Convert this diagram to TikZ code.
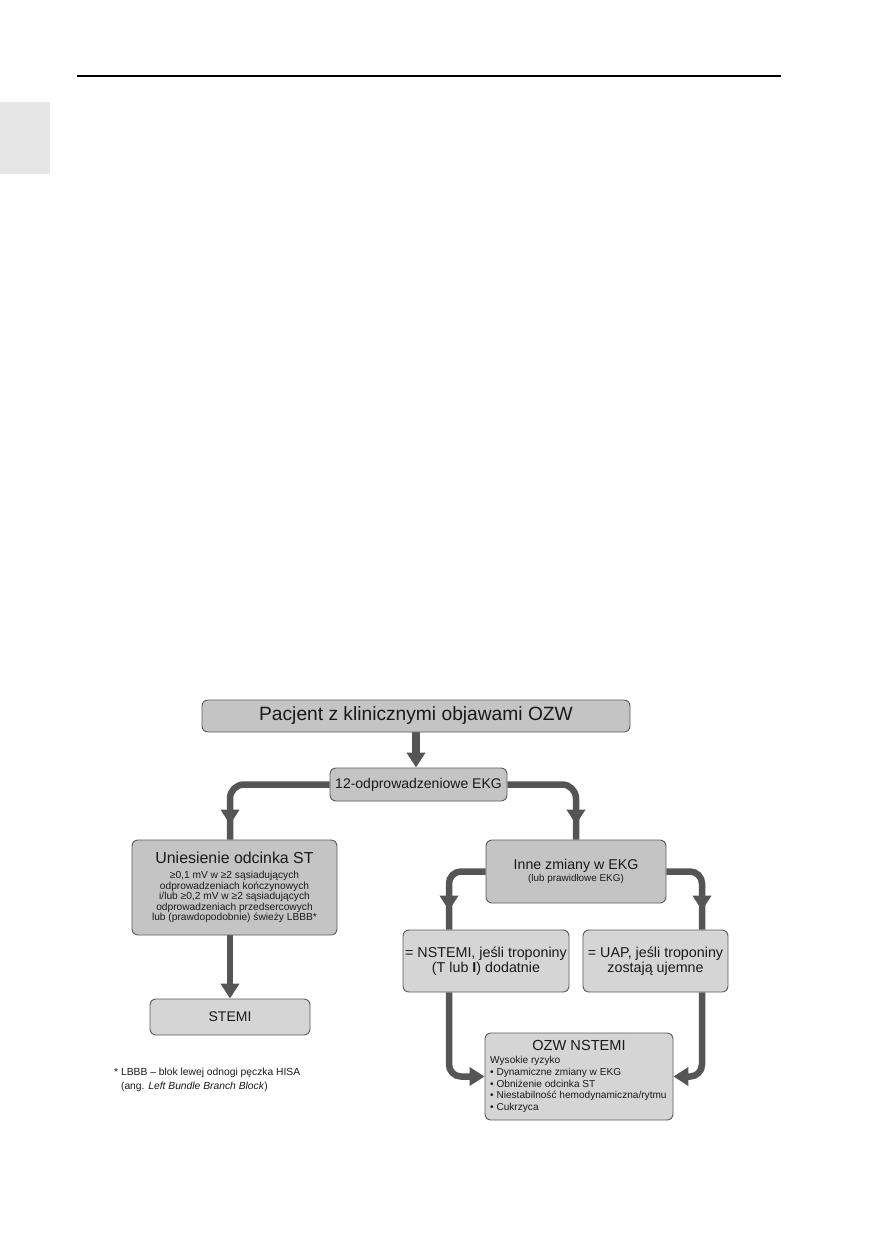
\documentclass[tikz,border=0pt]{standalone}
\usepackage{fontspec}
\setmainfont{Liberation Sans}
\usetikzlibrary{arrows.meta,decorations.markings}
\definecolor{boxA}{HTML}{C4C4C4}
\definecolor{boxB}{HTML}{D5D5D5}
\definecolor{edgecol}{HTML}{5A5A5A}
\definecolor{arrcol}{HTML}{555555}
\definecolor{tabcol}{HTML}{E6E6E6}
\pgfdeclarelayer{bg}
\pgfsetlayers{bg,main}
\begin{document}
\begin{tikzpicture}[x=1pt,y=-1pt,
  box/.style={draw=edgecol, line width=0.9pt, rounded corners=6pt, inner sep=0pt, align=center, text=black!90},
  conn/.style={draw=arrcol, line width=6.5pt},
  endarrow/.style={-{Triangle[width=18pt,length=15pt]}},
  midarrow/.style={decoration={markings, mark=at position #1 with {\arrow{Triangle[width=18pt,length=15pt]}}}, postaction={decorate}},
  ]
\useasboundingbox (0,0) rectangle (872,1254);
\fill[tabcol] (0,102) rectangle (50,174);
\draw[line width=1.3pt] (77,76) -- (781,76);

\node[box, fill=boxA, minimum width=428pt, minimum height=32pt, font=\fontsize{19.2}{22}\selectfont] (top) at (416,716) {Pacjent z klinicznymi objawami OZW};
\node[box, fill=boxA, minimum width=177pt, minimum height=33pt, font=\fontsize{14}{16}\selectfont] (ekg) at (418.5,784.5) {12-odprowadzeniowe EKG};
\node[box, fill=boxA, minimum width=205pt, minimum height=95pt, font=\fontsize{10.2}{8.9}\selectfont] (unie) at (234.5,887.5)
  {{\fontsize{15.9}{18}\selectfont Uniesienie odcinka ST}\\[6pt]
   ≥0,1 mV w ≥2 sąsiadujących\\
   odprowadzeniach kończynowych\\
   i/lub ≥0,2 mV w ≥2 sąsiadujących\\
   odprowadzeniach przedsercowych\\
   lub (prawdopodobnie) świeży LBBB*};
\node[box, fill=boxB, minimum width=160pt, minimum height=36pt, font=\fontsize{14}{16}\selectfont] (stemi) at (230,1017) {STEMI};
\node[box, fill=boxA, minimum width=180pt, minimum height=63pt] (inne) at (576,871.5)
  {{\fontsize{14.2}{16}\selectfont Inne zmiany w EKG}\\
   {\fontsize{9.9}{11}\selectfont (lub prawidłowe EKG)}};
\node[box, fill=boxB, minimum width=166pt, minimum height=62pt, font=\fontsize{14.3}{15}\selectfont] (nst) at (486,961)
  {= NSTEMI, jeśli troponiny\\(T lub \textbf{I}) dodatnie};
\node[box, fill=boxB, minimum width=145pt, minimum height=62pt, font=\fontsize{14.3}{15}\selectfont] (uap) at (655.5,961)
  {= UAP, jeśli troponiny\\zostają ujemne};
\node[box, fill=boxB, minimum width=188pt, minimum height=87pt] (ozw) at (579,1076.5) {};
\node[font=\fontsize{14.6}{16}\selectfont, inner sep=0pt, text=black!90] (ozwt) at (579,1045) {OZW NSTEMI};
\node[font=\fontsize{10.1}{11.8}\selectfont, inner sep=0pt, align=left, anchor=north west, text=black!90] (ozwl) at (490,1056)
  {Wysokie ryzyko\\
   • Dynamiczne zmiany w EKG\\
   • Obniżenie odcinka ST\\
   • Niestabilność hemodynamiczna/rytmu\\
   • Cukrzyca};
\node[font=\fontsize{10.3}{14}\selectfont, inner sep=0pt, align=left, anchor=north west, text=black!90] (fn) at (114,1067.5)
  {* LBBB – blok lewej odnogi pęczka HISA\\
   \hphantom{* }(ang. \textit{Left Bundle Branch Block})};

\coordinate (nx) at (449,0);
\coordinate (ux) at (702,0);
\begin{pgfonlayer}{bg}
\draw[conn, endarrow, line width=8pt] (top.south) -- (top.south |- ekg.north);
\draw[conn, rounded corners=14pt, midarrow=-15pt] (ekg.west) -| (stemi.north |- unie.north);
\draw[conn, rounded corners=14pt, midarrow=-15pt] (ekg.east) -| (inne.north);
\draw[conn, endarrow] (stemi.north |- unie.south) -- (stemi.north);
\draw[conn, rounded corners=12pt, midarrow=-19pt] (inne.west) -| (nx |- nst.north);
\draw[conn, rounded corners=12pt, midarrow=-19pt] (inne.east) -| (ux |- uap.north);
\draw[conn, rounded corners=12pt, endarrow] (nx |- nst.south) |- (ozw.west);
\draw[conn, rounded corners=12pt, endarrow] (ux |- uap.south) |- (ozw.east);
\end{pgfonlayer}
\end{tikzpicture}
\end{document}
